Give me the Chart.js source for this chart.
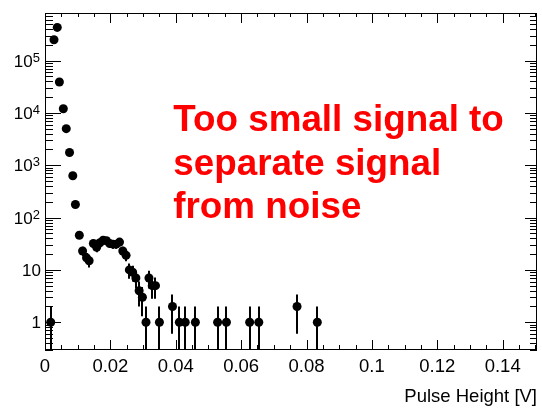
<!DOCTYPE html>
<html><head><meta charset="utf-8">
<script src="https://cdn.jsdelivr.net/npm/chart.js@4.4.0/dist/chart.umd.min.js"></script>
<style>html,body{margin:0;padding:0;background:#fff}#wrap{width:542px;height:408px}</style>
</head><body><div id="wrap"><canvas id="c" width="542" height="408"></canvas></div>
<script>
const pulseHeights = [0.00175, 0.00275, 0.00375, 0.0044, 0.0056, 0.0065, 0.0075, 0.0085, 0.0093, 0.0105,
  0.0115, 0.0127, 0.0135, 0.0148, 0.0158, 0.0168, 0.0178, 0.0188, 0.0198, 0.0208,
  0.0218, 0.0228, 0.0238, 0.0248, 0.0258, 0.0268, 0.0278, 0.0288, 0.0298, 0.0309,
  0.0318, 0.0328, 0.0338, 0.0350, 0.0390, 0.0411, 0.0429, 0.0460, 0.0528, 0.0555,
  0.0626, 0.0654, 0.0771, 0.0833];
const counts = [1, 250000, 430000, 39000, 12000, 5000, 1750, 630, 178, 46,
  23, 17, 15, 32, 27, 33, 37, 36, 32, 31,
  31, 34, 23, 19, 10, 9, 7, 4, 3, 1,
  7, 5, 5, 1, 2, 1, 1, 1, 1, 1,
  1, 1, 2, 1];
const countErrors = [1, 500, 656, 197, 110, 71, 42, 25, 13.3, 6.8,
  4.8, 4.1, 3.9, 5.7, 5.2, 5.7, 6.1, 6, 5.7, 5.6,
  5.6, 5.8, 4.8, 4.4, 3.2, 3, 2.6, 2, 1.7, 1,
  2.6, 2.2, 2.2, 1, 1.4, 1, 1, 1, 1, 1,
  1, 1, 1.4, 1];
const xTickValues = [0, 0.02, 0.04, 0.06, 0.08, 0.1, 0.12, 0.14];
const xTickLabels = ['0', '0.02', '0.04', '0.06', '0.08', '0.1', '0.12', '0.14'];
const yTickValues = [1, 10, 100, 1000, 10000, 100000];
const yTickBases = ['1', '10', '10', '10', '10', '10'];
const yTickExponents = ['', '', '2', '3', '4', '5'];
const annotationLines = ['Too small signal to', 'separate signal', 'from noise'];
const xTitle = 'Pulse Height [V]';

const FONT = '"Liberation Sans", Arial, sans-serif';

const rootStyle = {
  id: 'rootStyle',
  beforeDatasetsDraw(chart) {
    const ctx = chart.ctx, xs = chart.scales.x, ys = chart.scales.y, ca = chart.chartArea;
    ctx.save();
    ctx.beginPath(); ctx.rect(ca.left, ca.top, ca.right - ca.left, ca.bottom - ca.top); ctx.clip();
    ctx.strokeStyle = '#000'; ctx.lineWidth = 2;
    for (let i = 0; i < pulseHeights.length; i++) {
      const px = Math.round(xs.getPixelForValue(pulseHeights[i]));
      const lo = counts[i] - countErrors[i];
      const hi = counts[i] + countErrors[i];
      const yHi = ys.getPixelForValue(hi);
      const yLo = lo > ys.min ? ys.getPixelForValue(lo) : ca.bottom;
      ctx.beginPath(); ctx.moveTo(px, yHi); ctx.lineTo(px, yLo); ctx.stroke();
    }
    ctx.restore();
  },
  afterDraw(chart) {
    const ctx = chart.ctx, xs = chart.scales.x, ys = chart.scales.y;
    const {left, right, top, bottom} = chart.chartArea;
    ctx.save();
    ctx.strokeStyle = '#000'; ctx.lineWidth = 1;
    ctx.strokeRect(left + 0.5, top + 0.5, right - left - 1, bottom - top - 1);
    ctx.beginPath();
    for (let i = 0; i <= 40; i++) {
      const v = i * 0.005;
      if (v > xs.max) break;
      const major = i % 4 === 0;
      const px = Math.round(xs.getPixelForValue(v)) + 0.5;
      const lb = major ? 10 : 5, lt = major ? 10 : 4;
      ctx.moveTo(px, bottom); ctx.lineTo(px, bottom - lb);
      ctx.moveTo(px, top); ctx.lineTo(px, top + lt);
    }
    for (let d = -1; d <= 6; d++) {
      for (let m = 1; m <= 9; m++) {
        const v = m * Math.pow(10, d);
        if (v < ys.min || v > ys.max) continue;
        const major = m === 1;
        const py = Math.round(ys.getPixelForValue(v)) + 0.5;
        const ll = major ? 16 : 8, lr = major ? 12 : 7;
        ctx.moveTo(left, py); ctx.lineTo(left + ll, py);
        ctx.moveTo(right, py); ctx.lineTo(right - lr, py);
      }
    }
    ctx.stroke();
    ctx.fillStyle = '#000';
    ctx.textBaseline = 'alphabetic';
    ctx.textAlign = 'right';
    for (let i = 0; i < yTickValues.length; i++) {
      const py = ys.getPixelForValue(yTickValues[i]);
      const base = yTickBases[i], ex = yTickExponents[i];
      if (ex) {
        ctx.font = '13px ' + FONT;
        const w = ctx.measureText(ex).width;
        ctx.fillText(ex, 40, py + 6 - 5);
        ctx.font = '17px ' + FONT;
        ctx.fillText(base, 40 - w, py + 6);
      } else {
        ctx.font = '17px ' + FONT;
        ctx.fillText(base, 41, py + 6);
      }
    }
    ctx.fillStyle = '#ff0000';
    ctx.textAlign = 'left';
    ctx.font = 'bold 36.8px ' + FONT;
    const baselines = [131, 174.5, 218];
    annotationLines.forEach((t, i) => ctx.fillText(t, 173.3, baselines[i]));
    ctx.restore();
  }
};

new Chart(document.getElementById('c'), {
  type: 'scatter',
  data: {
    datasets: [{
      data: pulseHeights.map((x, i) => ({x: x, y: counts[i]})),
      backgroundColor: '#000',
      borderColor: '#000',
      borderWidth: 0,
      pointRadius: 4.5,
      pointHoverRadius: 4.5,
      showLine: false
    }]
  },
  options: {
    responsive: false,
    devicePixelRatio: 1,
    animation: false,
    layout: {padding: {left: 0, right: 5, top: 13, bottom: 0}},
    plugins: {legend: {display: false}, tooltip: {enabled: false}},
    scales: {
      x: {
        type: 'linear', min: 0, max: 0.1505,
        grid: {display: false, drawTicks: false},
        border: {display: false},
        afterBuildTicks: s => { s.ticks = xTickValues.map(v => ({value: v})); },
        afterFit: s => { s.height = 58; },
        ticks: {
          callback: (v) => { const i = xTickValues.findIndex(t => Math.abs(t - v) < 1e-9); return i >= 0 ? xTickLabels[i] : ''; },
          font: {family: FONT, size: 18.5}, color: '#000', maxRotation: 0, autoSkip: false, padding: 6
        },
        title: {display: true, text: xTitle, align: 'end', color: '#000', font: {family: FONT, size: 18.5}, padding: {top: 0, bottom: 0}}
      },
      y: {
        type: 'logarithmic', min: 0.295, max: 810000,
        grid: {display: false, drawTicks: false},
        border: {display: false},
        ticks: {display: false},
        afterFit: s => { s.width = 45; }
      }
    }
  },
  plugins: [rootStyle]
});
</script></body></html>
